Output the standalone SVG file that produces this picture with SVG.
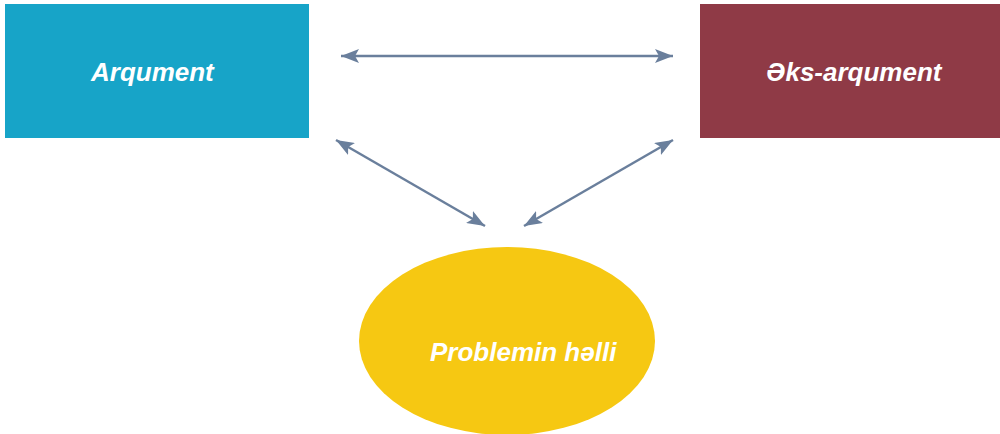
<svg xmlns="http://www.w3.org/2000/svg" width="1000" height="434" viewBox="0 0 1000 434">
<style>
.lbl{font-family:"Liberation Sans",Arial,sans-serif;font-weight:bold;font-style:italic;font-size:26px;fill:#ffffff}
.conn{stroke:#6a7f9c;stroke-width:2.5;fill:none;marker-start:url(#ah);marker-end:url(#ah)}
</style>
<defs>
<marker id="ah" markerUnits="userSpaceOnUse" markerWidth="20" markerHeight="14" refX="18" refY="7" orient="auto-start-reverse">
<path d="M0,0 L18,7 L0,14 L4,7 Z" fill="#6a7f9c"/>
</marker>
</defs>
<rect width="1000" height="434" fill="#ffffff"/>
<g id="arqument">
<rect x="5" y="4" width="304" height="134" fill="#17a4c8"/>
<text class="lbl" x="91" y="81">Arqument</text>
</g>
<g id="eks-arqument">
<rect x="700" y="4" width="300" height="134" fill="#8f3a46"/>
<text class="lbl" x="766" y="81">Əks-arqument</text>
</g>
<g id="problemin-helli">
<ellipse cx="507" cy="341" rx="148" ry="94" fill="#f6c812"/>
<text class="lbl" x="430" y="361">Problemin həlli</text>
</g>
<g id="connectors">
<line class="conn" x1="341" y1="56" x2="673" y2="56"/>
<line class="conn" x1="336" y1="140" x2="485" y2="226"/>
<line class="conn" x1="524" y1="226" x2="673" y2="140"/>
</g>
</svg>
